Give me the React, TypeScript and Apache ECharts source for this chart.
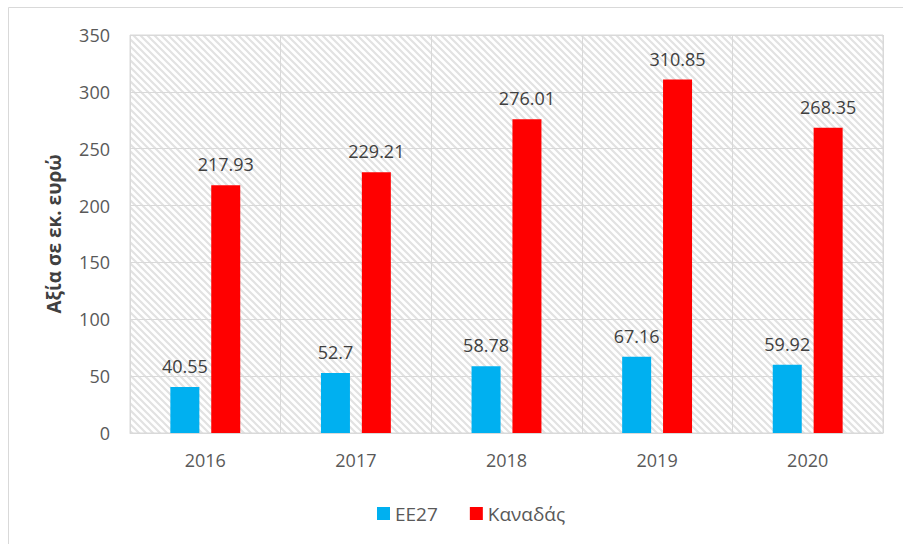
import React, { useEffect, useRef } from "react";
import * as echarts from "echarts";

const categories = ["2016", "2017", "2018", "2019", "2020"];
const ee27Values = [40.55, 52.7, 58.78, 67.16, 59.92];
const canadaValues = [217.93, 229.21, 276.01, 310.85, 268.35];
const seriesNames = ["ΕΕ27", "Καναδάς"];
const yAxisName = "Αξία σε εκ. ευρώ";

function makeHatch(): HTMLCanvasElement {
  const s = 7;
  const c = document.createElement("canvas");
  c.width = s;
  c.height = s;
  const ctx = c.getContext("2d")!;
  ctx.fillStyle = "#ffffff";
  ctx.fillRect(0, 0, s, s);
  ctx.strokeStyle = "#e2e2e2";
  ctx.lineWidth = 2.2;
  ctx.beginPath();
  ctx.moveTo(-2, -2);
  ctx.lineTo(s + 2, s + 2);
  ctx.moveTo(-2, s - 2);
  ctx.lineTo(2, s + 2);
  ctx.moveTo(s - 2, -2);
  ctx.lineTo(s + 2, 2);
  ctx.stroke();
  return c;
}

export default function App() {
  const ref = useRef<HTMLDivElement>(null);
  useEffect(() => {
    if (!ref.current) return;
    const chart = echarts.init(ref.current, undefined, { renderer: "svg" });
    const font = "'Open Sans', 'Noto Sans', sans-serif";
    const labelStyle = {
      show: true,
      position: "top" as const,
      distance: 12,
      color: "#404040",
      fontSize: 18,
      fontFamily: font,
    };
    chart.setOption({
      animation: false,
      backgroundColor: "#ffffff",
      textStyle: { fontFamily: font },
      graphic: [
        {
          type: "rect",
          shape: { x: 8.5, y: 7.5, width: 1000, height: 1000 },
          style: { fill: "none", stroke: "#d9d9d9", lineWidth: 1 },
          silent: true,
          z: -10,
        },
      ],
      grid: {
        left: 130,
        top: 35,
        right: 20,
        bottom: 111,
        show: true,
        backgroundColor: { image: makeHatch(), repeat: "repeat" },
        borderColor: "#d9d9d9",
        borderWidth: 1,
      },
      legend: {
        top: 499,
        left: 372,
        itemWidth: 13,
        itemHeight: 13,
        itemGap: 32,
        icon: "rect",
        textStyle: { fontSize: 19, color: "#595959", fontFamily: font },
        data: seriesNames,
      },
      xAxis: {
        type: "category",
        data: categories,
        axisTick: { show: false },
        axisLine: { show: true, lineStyle: { color: "#d9d9d9" } },
        axisLabel: { color: "#595959", fontSize: 18, margin: 18, fontFamily: font },
        splitLine: { show: true, lineStyle: { color: "#d9d9d9", width: 1 } },
      },
      yAxis: {
        type: "value",
        min: 0,
        max: 350,
        interval: 50,
        name: yAxisName,
        nameLocation: "middle",
        nameGap: 67,
        nameTextStyle: { fontSize: 19, fontWeight: "bold", color: "#404040", fontFamily: font },
        axisLine: { show: false },
        axisTick: { show: false },
        axisLabel: { color: "#595959", fontSize: 18, margin: 20, fontFamily: font },
        splitLine: { show: true, lineStyle: { color: "#d9d9d9", width: 1 } },
      },
      series: [
        {
          name: seriesNames[0],
          type: "bar",
          data: ee27Values,
          barWidth: 29,
          barGap: "41%",
          itemStyle: { color: "#00B0F0" },
          label: labelStyle,
        },
        {
          name: seriesNames[1],
          type: "bar",
          data: canadaValues,
          barWidth: 29,
          barGap: "41%",
          itemStyle: { color: "#FF0000" },
          label: labelStyle,
        },
      ],
    });
    return () => chart.dispose();
  }, []);
  return (
    <div
      ref={ref}
      style={{ position: "fixed", left: 0, top: 0, width: 903, height: 544 }}
    />
  );
}
